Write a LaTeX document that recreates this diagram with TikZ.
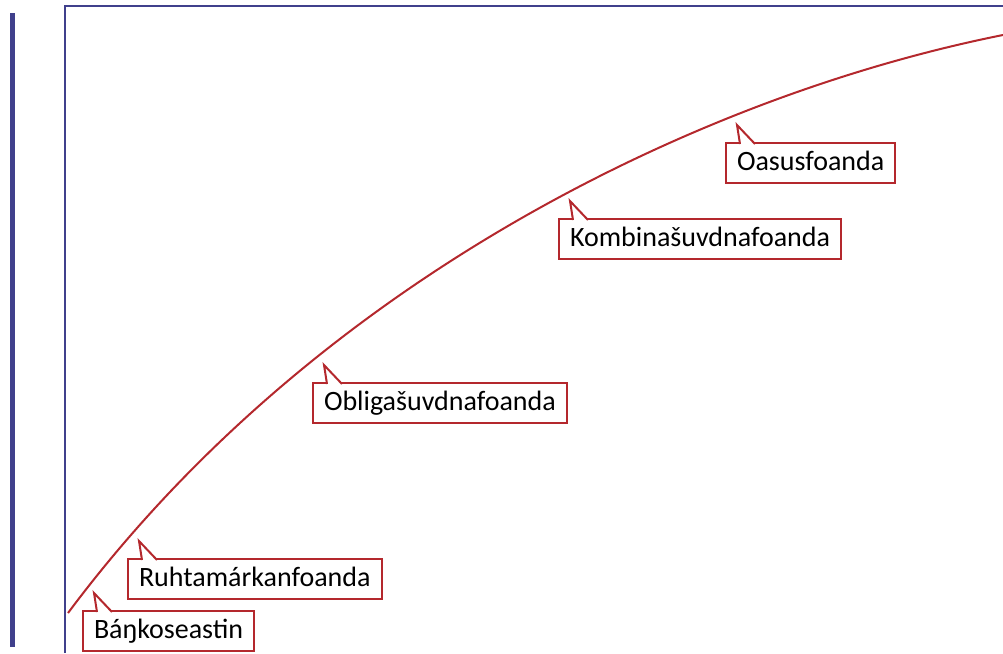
\documentclass[tikz,border=0pt]{standalone}
\usepackage{fontspec}
\setmainfont{Carlito}
\definecolor{axisblue}{RGB}{64,64,140}
\definecolor{curvered}{RGB}{180,40,45}
\begin{document}
\begin{tikzpicture}[x=1pt,y=-1pt,
    labelbox/.style={draw=curvered,line width=2pt,fill=white,anchor=north west,
      inner xsep=11pt,inner ysep=0pt,minimum height=40pt,text height=18pt,text depth=4pt,
      font=\fontsize{28}{34}\selectfont},
    tipline/.style={draw=curvered,line width=2pt,fill=white}]
    \useasboundingbox (0,0) rectangle (1003,653);
    % axes
    \draw[axisblue,line width=5pt] (12.5,13)--(12.5,647);
    \draw[axisblue,line width=2.5pt] (65,653)--(65,6)--(1003,6);
    % curve
    \draw[curvered,line width=2pt] (68,613) .. controls (318,278) and (703,95) .. (1003,35);

    \node[labelbox] (bank) at (82,610) {Báŋkoseastin};
    \node[labelbox] (ruht) at (127,558) {Ruhtamárkanfoanda};
    \node[labelbox] (obli) at (312,382) {Obligašuvdnafoanda};
    \node[labelbox] (komb) at (558,218) {Kombinašuvdnafoanda};
    \node[labelbox] (oasu) at (725,142) {Oasusfoanda};

    \foreach \n in {bank,ruht,obli,komb,oasu}
      \filldraw[tipline] ([xshift=15pt,yshift=-2pt]\n.north west) -- ([xshift=12pt,yshift=17pt]\n.north west) -- ([xshift=30pt,yshift=-2pt]\n.north west);
\end{tikzpicture}
\end{document}
